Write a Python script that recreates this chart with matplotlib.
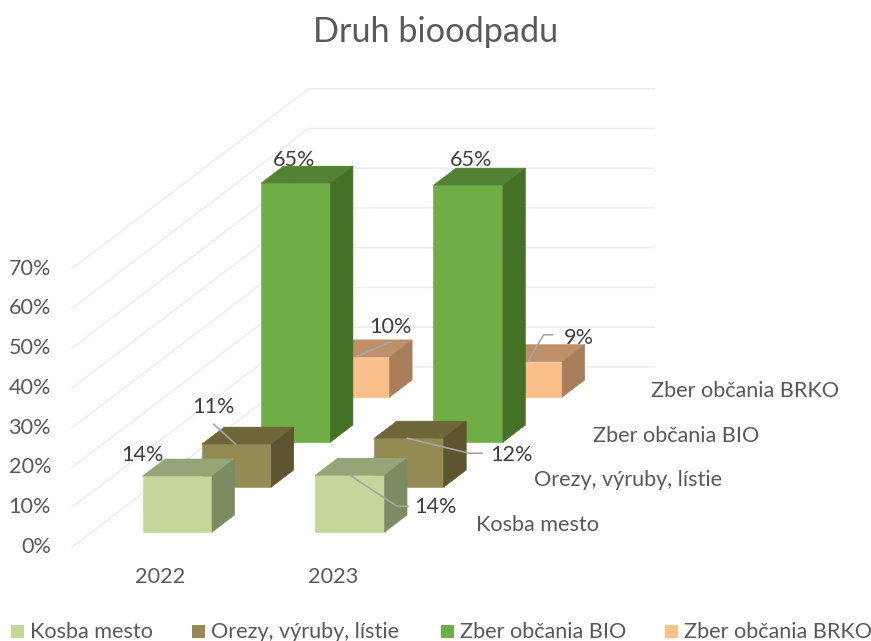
import matplotlib
matplotlib.use("Agg")
import matplotlib.pyplot as plt
from matplotlib.patches import Polygon, Rectangle

plt.rcParams['font.family'] = ['Lato', 'DejaVu Sans']

title = "Druh bioodpadu"
years = ["2022", "2023"]
series = ["Kosba mesto", "Orezy, výruby, lístie", "Zber občania BIO", "Zber občania BRKO"]
kosba = [14.1, 14.3]
orezy = [10.8, 12.3]
bio = [65.1, 64.6]
brko = [10.1, 8.9]
labels_kosba = ["14%", "14%"]
labels_orezy = ["11%", "12%"]
labels_bio = ["65%", "65%"]
labels_brko = ["10%", "9%"]
y_ticks = [0, 10, 20, 30, 40, 50, 60, 70]

values = [kosba, orezy, bio, brko]
labels = [labels_kosba, labels_orezy, labels_bio, labels_brko]

# style: front, top, side
colors = [("#C4D79B", "#94A678", "#7C8C62"),
          ("#948A54", "#6E6539", "#5D5530"),
          ("#70AD47", "#548235", "#457127"),
          ("#FBBF8B", "#BE9069", "#A87E5B")]
GRID = "#EBEBEB"
TXT = "#595959"
LBL = "#404040"
LEAD = "#A6A6A6"
FS = 15.6

# oblique projection (layout constants)
X0, Y0 = 72.0, 547.0          # front-left floor corner
CAT = 172.5                   # width of one category
DX, DY = 59.2, -45.0          # shift per series in depth
PX = 39.77                    # pixels per 10 %
BAR_W = 69.5 / CAT
BAR_X = 51.0 / CAT
D0, DW = 0.33, 0.38


def proj(c, d, v):
    return X0 + CAT * c + DX * d, Y0 + DY * d - PX * v / 10.0


fig = plt.figure(figsize=(8.71, 6.41), dpi=100)
ax = fig.add_axes([0, 0, 1, 1])
ax.set_xlim(0, 871)
ax.set_ylim(641, 0)
ax.axis("off")

n_cat, n_ser = len(years), len(series)
for t in y_ticks:
    p0 = proj(0, 0, t)
    p1 = proj(0, n_ser, t)
    p2 = proj(n_cat, n_ser, t)
    ax.plot([p0[0], p1[0], p2[0]], [p0[1], p1[1], p2[1]], color=GRID, lw=1.0, zorder=1)
    ax.text(p0[0] - 21, p0[1], f"{t}%", ha="right", va="center",
            fontsize=FS, color=TXT)


def bar(c, s, v, cols, z):
    x0, x1 = c + BAR_X, c + BAR_X + BAR_W
    d0, d1 = s + D0, s + D0 + DW
    front = [proj(x0, d0, 0), proj(x1, d0, 0), proj(x1, d0, v), proj(x0, d0, v)]
    top = [proj(x0, d0, v), proj(x1, d0, v), proj(x1, d1, v), proj(x0, d1, v)]
    side = [proj(x1, d0, 0), proj(x1, d1, 0), proj(x1, d1, v), proj(x1, d0, v)]
    for poly, col in zip((front, top, side), cols):
        ax.add_patch(Polygon(poly, closed=True, facecolor=col, edgecolor=col,
                             lw=0.4, zorder=z))
    return front[3]


anchors = {}
for s in reversed(range(n_ser)):
    for c in range(n_cat):
        anchors[(s, c)] = bar(c, s, values[s][c], colors[s], 2 + n_ser - s)

# label offsets from each bar's front top-left corner, and leader-line offsets
label_off = {(0, 0): (0, -21), (1, 0): (12, -37), (2, 0): (33, -23), (3, 0): (70, -30),
             (0, 1): (120, 32), (1, 1): (137, 17), (2, 1): (38, -25), (3, 1): (86, -24)}
leaders = {(1, 0): [(12, -20), (34, 0)],
           (3, 0): [(36, 0), (70, -15)],
           (0, 1): [(35, 0), (82, 31), (93, 31)],
           (1, 1): [(33, 0), (95, 15), (108, 15)],
           (3, 1): [(35, 0), (51, -27), (60, -27)]}

for key, pts in leaders.items():
    ax0, ay0 = anchors[key]
    ax.plot([ax0 + p[0] for p in pts], [ay0 + p[1] for p in pts],
            color=LEAD, lw=1.2, zorder=20)
for (s, c), (ox, oy) in label_off.items():
    ax0, ay0 = anchors[(s, c)]
    ax.text(ax0 + ox, ay0 + oy, labels[s][c], ha="center", va="center",
            fontsize=FS, color=LBL, zorder=21)

for c, y in enumerate(years):
    p = proj(c + 0.5, 0, 0)
    ax.text(p[0] + 2, 577, y, ha="center", va="center", fontsize=FS, color=TXT)

for s, name in enumerate(series):
    ax.text(476 + s * 58.4, 525 - s * 44.7, name, ha="left", va="center",
            fontsize=FS, color=TXT)

ax.text(435.5, 31.5, title, ha="center", va="center", fontsize=24.7, color=TXT)

leg_sq = [11, 192, 441, 665]
for s, name in enumerate(series):
    ax.add_patch(Rectangle((leg_sq[s], 625), 13, 13, facecolor=colors[s][0],
                           edgecolor="none", zorder=5))
    ax.text(leg_sq[s] + 19, 632, name, ha="left", va="center", fontsize=FS, color=TXT)

fig.savefig("out.png", dpi=100)
